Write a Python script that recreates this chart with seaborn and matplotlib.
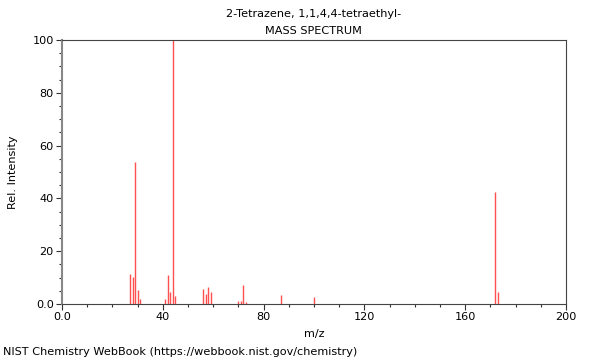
import matplotlib
matplotlib.use("Agg")
import matplotlib.pyplot as plt
import seaborn as sns
from matplotlib.ticker import MultipleLocator, FixedLocator

# peak list (m/z, relative intensity)
mz = [27, 28, 29, 30, 31, 41, 42, 43, 44, 45, 56, 57, 58, 59,
      70, 71, 72, 73, 87, 100, 172, 173]
intensity = [11.4, 10.2, 53.9, 5.3, 2.0, 1.8, 11.0, 4.5, 100.0, 2.9,
             5.7, 3.9, 6.4, 4.5, 1.1, 1.1, 7.2, 0.9, 3.4, 2.6, 42.3, 4.4]

x_major = [0, 40, 80, 120, 160, 200]
x_labels = ["0.0", "40", "80", "120", "160", "200"]
y_major = [0, 20, 40, 60, 80, 100]
y_labels = ["0.0", "20", "40", "60", "80", "100"]

sns.set_style("ticks")
plt.rcParams['font.family'] = ['DejaVu Sans']
plt.rcParams['text.color'] = 'black'
plt.rcParams['axes.labelcolor'] = 'black'
plt.rcParams['xtick.labelcolor'] = 'black'
plt.rcParams['ytick.labelcolor'] = 'black'

fs = 8.1

fig = plt.figure(figsize=(6, 3.6), dpi=100)
ax = fig.add_axes([0.1033, 0.1556, 0.84, 0.7333])

ax.vlines(mz, 0, intensity, color="#ff3030", linewidth=1.0, alpha=0.85)

ax.set_xlim(0, 200)
ax.set_ylim(0, 100)
ax.xaxis.set_major_locator(FixedLocator(x_major))
ax.set_xticklabels(x_labels)
ax.xaxis.set_minor_locator(MultipleLocator(10))
ax.yaxis.set_major_locator(FixedLocator(y_major))
ax.set_yticklabels(y_labels)
ax.yaxis.set_minor_locator(MultipleLocator(5))

ax.tick_params(which="major", length=4, width=0.8, labelsize=fs, color="#333333", pad=2)
ax.tick_params(which="minor", length=2.5, width=0.8, color="#333333")

for side, sp in ax.spines.items():
    sp.set_visible(True)
    sp.set_color("#444444")
    sp.set_linewidth(0.8)
ax.spines["left"].set_color("#888888")
ax.spines["left"].set_linewidth(1.5)

ax.set_xlabel("m/z", fontsize=fs, labelpad=5)
ax.set_ylabel("Rel. Intensity", fontsize=fs, labelpad=10)

fig.text(0.523, 0.962, "2-Tetrazene, 1,1,4,4-tetraethyl-", ha="center", va="center", fontsize=fs)
fig.text(0.523, 0.915, "MASS SPECTRUM", ha="center", va="center", fontsize=fs)
fig.text(0.005, 0.022, "NIST Chemistry WebBook (https://webbook.nist.gov/chemistry)",
         ha="left", va="center", fontsize=fs)

fig.savefig("out.png", dpi=100)
